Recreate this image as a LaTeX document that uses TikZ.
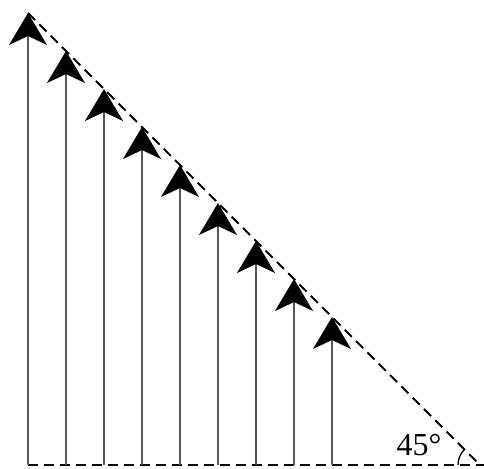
\documentclass[tikz,border=0pt]{standalone}
\usepackage{fontspec}
\setmainfont{Liberation Serif}
\newfontfamily\labfont{Liberation Serif}
\usetikzlibrary{arrows.meta}
\begin{document}
\begin{tikzpicture}[x=1pt,y=-1pt,
  vec/.style={draw={rgb,255:red,85;green,85;blue,100}, line width=1.8pt,
    -{Stealth[length=32pt,width=38pt,inset=9pt,color=black,fill=black]}},
  dsh/.style={draw=black, line width=2pt, dash pattern=on 10pt off 6pt}]
\useasboundingbox (0,0) rectangle (484,468);
\coordinate (top) at (28,13);
\coordinate (end) at (480,465);
\coordinate (b0) at (28,465);
\coordinate (b1) at (484,465);
\draw[dsh] (top) -- (end);
\draw[dsh] (b0) -- (b1);
\foreach \i in {0,...,8} {
  \pgfmathsetmacro{\xx}{28+38*\i}
  \pgfmathsetmacro{\yy}{13+38*\i}
  \coordinate (f\i) at (\xx,465);
  \coordinate (t\i) at (\xx,\yy);
  \draw[vec] (f\i) -- (t\i);
}
\draw[line width=1.3pt] (end) ++(225:22) arc[start angle=225, end angle=180, radius=22];
\node[font=\labfont\fontsize{32}{34}\selectfont] (lab) at (419,445) {45°};
\end{tikzpicture}
\end{document}
